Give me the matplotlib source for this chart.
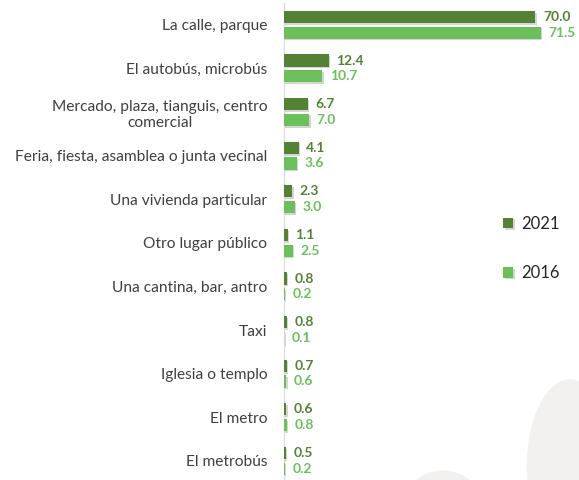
import matplotlib
matplotlib.use("Agg")
import matplotlib.pyplot as plt
import matplotlib.patheffects as pe
from matplotlib.patches import Ellipse
import numpy as np

categories = [
    "La calle, parque",
    "El autobús, microbús",
    "Mercado, plaza, tianguis, centro\ncomercial",
    "Feria, fiesta, asamblea o junta vecinal",
    "Una vivienda particular",
    "Otro lugar público",
    "Una cantina, bar, antro",
    "Taxi",
    "Iglesia o templo",
    "El metro",
    "El metrobús",
]
vals_2021 = [70.0, 12.4, 6.7, 4.1, 2.3, 1.1, 0.8, 0.8, 0.7, 0.6, 0.5]
vals_2016 = [71.5, 10.7, 7.0, 3.6, 3.0, 2.5, 0.2, 0.1, 0.6, 0.8, 0.2]

dark = "#548235"
light = "#6cc05c"

plt.rcParams["font.family"] = ["Lato", "DejaVu Sans"]

fig = plt.figure(figsize=(5.79, 4.8), dpi=100)

# faint background blobs (bottom right)
fig.patches.append(Ellipse((0.985, 0.03), 0.15, 0.36, transform=fig.transFigure,
                           facecolor="#f3f1ef", edgecolor="none", zorder=0))
fig.patches.append(Ellipse((0.765, -0.06), 0.14, 0.16, transform=fig.transFigure,
                           facecolor="#f3f1ef", edgecolor="none", zorder=0))

ax = fig.add_axes([284 / 579, 0, 276 / 579, 477 / 480])
ax.set_facecolor("none")

y = np.arange(len(categories))
h = 0.28
off = 0.18
shadow = [pe.SimplePatchShadow(offset=(1, -1.2), shadow_rgbFace="#888888", alpha=0.35), pe.Normal()]
b1 = ax.barh(y - off, vals_2021, height=h, color=dark, label="2021", path_effects=shadow, zorder=3)
b2 = ax.barh(y + off, vals_2016, height=h, color=light, label="2016", path_effects=shadow, zorder=3)

for bars, vals, c in [(b1, vals_2021, dark), (b2, vals_2016, light)]:
    for bar, v in zip(bars, vals):
        ax.annotate(f"{v:.1f}", (bar.get_width(), bar.get_y() + bar.get_height() / 2),
                    xytext=(5.5, 0), textcoords="offset points", va="center", ha="left",
                    fontsize=10, fontweight="bold", color=c)

ax.set_xlim(0, 276 / 3.59)
ax.set_ylim(10.44, -0.5)
ax.set_yticks(y)
ax.set_yticklabels(categories, fontsize=11.2, color="#404040")
ax.set_xticks([])
for s in ["top", "right", "bottom"]:
    ax.spines[s].set_visible(False)
ax.spines["left"].set_color("#d9d9d9")

# right-align labels, center the two-line one like the original
for lbl in ax.get_yticklabels():
    lbl.set_horizontalalignment("right")
    lbl.set_multialignment("center")
ax.tick_params(axis="y", length=0, pad=12)

ax.legend(handles=[b1, b2], loc="upper left", bbox_to_anchor=(0.74, 0.585), frameon=False,
          fontsize=12, labelspacing=2.0, handlelength=0.6, handleheight=0.6,
          handletextpad=0.5, labelcolor="#262626")

fig.savefig("out.png", dpi=100)
